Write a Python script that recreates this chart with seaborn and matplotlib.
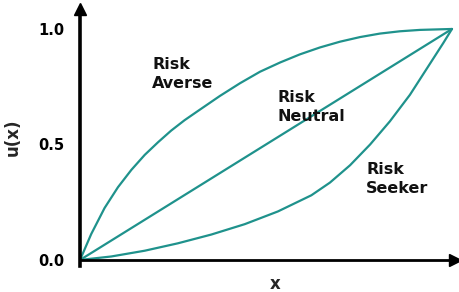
import matplotlib
matplotlib.use("Agg")
import matplotlib.pyplot as plt
import seaborn as sns
import pandas as pd

# Data
x_averse = [0, 0.030, 0.066, 0.102, 0.138, 0.174, 0.210, 0.245, 0.281, 0.317,
            0.376, 0.430, 0.484, 0.538, 0.591, 0.645, 0.699, 0.753, 0.806, 0.860, 0.914, 1.0]
u_averse = [0, 0.112, 0.225, 0.315, 0.390, 0.455, 0.510, 0.560, 0.605, 0.645,
            0.710, 0.765, 0.815, 0.855, 0.890, 0.920, 0.945, 0.965, 0.980, 0.990, 0.996, 1.0]
x_neutral = [0, 0.5, 1.0]
u_neutral = [0, 0.5, 1.0]
x_seeker = [0, 0.084, 0.174, 0.263, 0.353, 0.443, 0.532, 0.622, 0.672, 0.726,
            0.780, 0.833, 0.887, 0.941, 0.977, 1.0]
u_seeker = [0, 0.015, 0.040, 0.072, 0.110, 0.155, 0.210, 0.280, 0.335, 0.410,
            0.500, 0.600, 0.715, 0.850, 0.940, 1.0]
labels = ["Risk\nAverse", "Risk\nNeutral", "Risk\nSeeker"]
y_ticks = [0.0, 0.5, 1.0]
y_tick_labels = ["0.0", "0.5", "1.0"]

sns.set_style("white")
plt.rcParams["font.family"] = ["DejaVu Sans"]

df = pd.concat([
    pd.DataFrame({"x": x_averse, "u": u_averse, "curve": labels[0]}),
    pd.DataFrame({"x": x_neutral, "u": u_neutral, "curve": labels[1]}),
    pd.DataFrame({"x": x_seeker, "u": u_seeker, "curve": labels[2]}),
])

teal = "#1f928c"
fig = plt.figure(figsize=(4.6, 2.92), dpi=100)
ax = fig.add_axes([0.174, 0.09, 0.815, 0.878])
sns.lineplot(data=df, x="x", y="u", hue="curve", palette=[teal] * 3,
             sort=False, estimator=None, linewidth=1.6, legend=False, ax=ax)

ax.set_xlim(0, 1.008)
ax.set_ylim(-0.025, 1.085)
for s in ["top", "right"]:
    ax.spines[s].set_visible(False)
ax.spines["bottom"].set_position(("data", 0))
ax.spines["left"].set_linewidth(2.6)
ax.spines["bottom"].set_linewidth(2.0)
ax.spines["left"].set_color("black")
ax.spines["bottom"].set_color("black")

ax.set_xticks([])
ax.set_yticks(y_ticks)
ax.set_yticklabels(y_tick_labels, fontweight="bold", fontsize=10.5)
ax.tick_params(axis="y", direction="inout", length=16, width=2.2, pad=3, colors="black")

ax.plot(1, 0, ">", color="black", markersize=8, transform=ax.get_yaxis_transform(), clip_on=False)
ax.plot(0, 1, "^", color="black", markersize=8, transform=ax.get_xaxis_transform(), clip_on=False)

ax.set_xlabel("x", fontweight="bold", fontsize=12, labelpad=6)
ax.xaxis.set_label_coords(0.52, -0.035)
ax.set_ylabel("u(x)", fontweight="bold", fontsize=12)
ax.yaxis.set_label_coords(-0.155, 0.5)

txt = dict(fontweight="bold", fontsize=11.5, ha="left", va="top", linespacing=1.3, color="#111111")
ax.text(0.194, 0.878, labels[0], **txt)
ax.text(0.530, 0.735, labels[1], **txt)
ax.text(0.769, 0.424, labels[2], **txt)

fig.savefig("out.png", dpi=100)
